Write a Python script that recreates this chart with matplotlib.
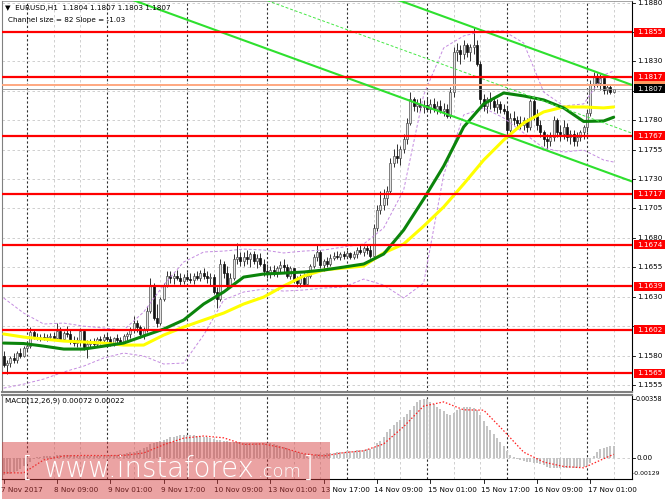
import numpy as np
import matplotlib
matplotlib.use('Agg')
import matplotlib.pyplot as plt
from matplotlib.patches import Rectangle
from matplotlib.transforms import blended_transform_factory

BASE = 1.15
PIP = 0.0001

# hourly EURUSD candles, values in pips above 1.1500
first_open = 80
close_p = [
    72, 74, 78, 76, 82, 80, 86, 88, 100, 96,
    95, 96, 94, 96, 97, 95, 101, 94, 99, 98,
    92, 91, 93, 101, 87, 90, 92, 90, 94, 93,
    96, 94, 90, 95, 93, 91, 97, 98, 102, 108,
    104, 98, 102, 118, 140, 112, 108, 128, 140, 148,
    146, 148, 146, 143, 147, 145, 144, 148, 146, 150,
    148, 146, 147, 134, 128, 158, 150, 140, 146, 162,
    164, 160, 164, 162, 166, 160, 163, 158, 152, 150,
    153, 150, 154, 157, 155, 148, 154, 144, 142, 146,
    141, 148, 156, 164, 168, 157, 160, 158, 163, 165,
    164, 166, 165, 167, 164, 166, 170, 168, 171, 170,
    165, 188, 204, 208, 214, 220, 244, 250, 248, 256,
    264, 278, 298, 292, 294, 291, 293, 290, 294, 290,
    292, 288, 290, 284, 304, 338, 340, 336, 344, 338,
    342, 344, 328, 298, 292, 298, 296, 291, 294, 290,
    288, 272, 282, 280, 278, 276, 280, 274, 296, 284,
    276, 270, 264, 262, 266, 280, 270, 268, 274, 266,
    268, 262, 266, 270, 274, 286, 310, 318, 312, 316,
    306, 308, 304, 307]
high_p = [
    84, 76, 80, 82, 84, 86, 88, 92, 104, 102,
    99, 98, 99, 98, 99, 100, 108, 104, 101, 105,
    102, 97, 96, 103, 102, 93, 94, 95, 96, 97,
    98, 99, 97, 96, 98, 96, 98, 100, 104, 114,
    110, 106, 104, 122, 146, 142, 124, 130, 142, 152,
    152, 150, 153, 150, 149, 151, 150, 150, 152, 153,
    154, 152, 150, 149, 138, 162, 160, 156, 150, 166,
    176, 168, 168, 170, 168, 169, 166, 167, 162, 158,
    156, 157, 156, 160, 162, 158, 156, 154, 148, 149,
    150, 150, 158, 166, 174, 170, 162, 164, 166, 168,
    169, 168, 169, 170, 168, 169, 172, 174, 173, 175,
    174, 192, 208, 220, 222, 224, 248, 256, 260, 258,
    268, 282, 304, 300, 298, 299, 297, 300, 298, 299,
    296, 297, 295, 294, 308, 342, 346, 344, 348, 346,
    345, 359, 348, 330, 302, 300, 304, 300, 298, 296,
    294, 291, 286, 288, 284, 284, 283, 282, 298, 298,
    290, 280, 272, 268, 270, 284, 282, 276, 280, 278,
    272, 272, 270, 272, 276, 290, 314, 321, 320, 319,
    316, 310, 310, 307]
low_p = [
    70, 64, 70, 74, 74, 78, 79, 84, 86, 94,
    93, 92, 93, 92, 94, 93, 94, 92, 92, 96,
    90, 88, 87, 88, 85, 78, 86, 88, 88, 90,
    91, 92, 88, 88, 91, 89, 90, 93, 95, 99,
    100, 95, 94, 100, 116, 110, 104, 106, 126, 138,
    142, 141, 144, 140, 141, 143, 142, 141, 144, 143,
    145, 142, 140, 132, 120, 126, 146, 136, 138, 144,
    158, 156, 156, 158, 155, 158, 154, 156, 148, 146,
    146, 148, 147, 150, 151, 146, 145, 142, 138, 138,
    139, 139, 146, 154, 160, 154, 152, 155, 156, 161,
    162, 161, 162, 163, 162, 162, 163, 166, 165, 166,
    163, 163, 186, 200, 204, 208, 218, 240, 244, 242,
    252, 260, 276, 288, 287, 288, 286, 288, 286, 287,
    285, 286, 284, 282, 282, 300, 330, 328, 332, 334,
    330, 336, 326, 294, 288, 286, 290, 288, 286, 286,
    285, 268, 270, 276, 274, 273, 272, 270, 272, 280,
    272, 266, 258, 256, 258, 262, 266, 262, 264, 262,
    260, 258, 258, 262, 264, 270, 284, 306, 308, 306,
    302, 302, 302, 303]

# MACD histogram, units of 0.00001
macd_hist = [
    -105, -100, -95, -88, -78, -66, -52, -38, -22, -8,
    3, 8, 10, 12, 13, 14, 15, 16, 17, 17,
    16, 15, 14, 14, 13, 12, 12, 13, 14, 14,
    15, 16, 17, 18, 20, 22, 26, 30, 34, 38,
    44, 50, 58, 68, 85, 92, 96, 100, 108, 116,
    124, 130, 135, 138, 140, 140, 139, 137, 135, 132,
    128, 124, 120, 114, 108, 106, 104, 100, 98, 96,
    95, 94, 92, 92, 91, 90, 90, 91, 92, 90,
    88, 84, 78, 72, 65, 58, 50, 42, 35, 28,
    22, 18, 16, 18, 22, 24, 26, 28, 30, 32,
    34, 36, 38, 40, 42, 44, 46, 48, 50, 52,
    54, 65, 88, 105, 125, 155, 175, 200, 220, 232,
    248, 268, 290, 315, 338, 352, 358, 355, 340, 325,
    310, 295, 282, 268, 262, 272, 288, 300, 308, 310,
    308, 302, 290, 262, 225, 195, 170, 145, 118, 95,
    70, 42, 20, 8, -5, -12, -20, -25, -26, -28,
    -30, -35, -45, -55, -60, -60, -60, -61, -60, -60,
    -59, -60, -60, -58, -55, -48, -30, 10, 35, 55,
    62, 68, 70, 72]

# indicator lines read every 6 bars
sample_idx = list(range(0, 181, 6)) + [183]
macd_signal = [-90, -91, -12, 12, 15, 14, 15, 30, 80, 120, 133, 122, 82, 85, 60, 25,
               12, 32, 43, 85, 190, 315, 340, 292, 290, 165, 35, -25, -52, -60, -5, 22]
ma_green = [90.6, 90.2, 88, 85.5, 85.5, 88, 90.6, 96.6, 102.5, 110.2, 123.8, 134, 146.7,
            149.3, 150.1, 151, 152.7, 155.2, 157.8, 166.3, 186.7, 213, 241, 274.3, 293.9,
            303.2, 300.7, 297.3, 290.5, 279, 279.4, 282.6]
ma_yellow = [98.3, 95.7, 94, 92.3, 91.5, 90.6, 88.9, 88.9, 97.4, 104.2, 110.2, 116.1, 123.8,
             129.7, 139.1, 147.6, 152.7, 154.4, 156.1, 167.2, 174.8, 190, 206.3, 225.8, 246.2,
             263.2, 277.7, 287.1, 291.3, 291.3, 290.5, 291.3]
band_upper = [128.9, 116.1, 106.8, 107.6, 105, 103.4, 101.7, 117, 139.9, 159.5, 168, 168.8,
              170.5, 169.7, 167.2, 168.8, 169.7, 172.3, 174.8, 188.4, 220.7, 301.5, 341.5,
              351.7, 355.9, 355.9, 345.7, 304, 292.2, 293.9, 318.5, 321.9]
band_lower = [52.3, 55.7, 60, 66, 71, 77.9, 82.1, 79.6, 72.8, 73.6, 97.4, 127.2, 134, 136.5,
              134.8, 135.7, 137.4, 138.2, 145, 139.9, 128.9, 141.6, 233.5, 284.5, 290.5, 282,
              269.2, 256.4, 253, 254.7, 246.2, 244.5]

levels = [1.1855, 1.1817, 1.1767, 1.1717, 1.1674, 1.1639, 1.1602, 1.1565]
price_ticks = [1.1555, 1.1580, 1.1605, 1.1630, 1.1655, 1.1680, 1.1705, 1.1730,
               1.1755, 1.1780, 1.1805, 1.1830, 1.1855, 1.1880]
bid = 1.1807
other_line = 1.1810
channel_size = 82        # pips
channel_slope = -1.03    # pips per bar
channel_low_right = 1.1728

date_idx = [0, 16, 32, 48, 64, 80, 96, 112, 128, 144, 160, 176]
date_labels = ['7 Nov 2017', '8 Nov 09:00', '9 Nov 01:00', '9 Nov 17:00', '10 Nov 09:00',
               '13 Nov 01:00', '13 Nov 17:00', '14 Nov 09:00', '15 Nov 01:00',
               '15 Nov 17:00', '16 Nov 09:00', '17 Nov 01:00']
day_starts = [7, 31, 55, 79, 103, 127, 151, 175]
macd_scale = [0.00358, 0.0, -0.00129]

W, H = 665, 499
FS = 5.2


def rect(l, t, r, b):
    return [l / W, 1 - b / H, (r - l) / W, (b - t) / H]


def main():
    c = BASE + np.array(close_p) * PIP
    hi = BASE + np.array(high_p) * PIP
    lo = BASE + np.array(low_p) * PIP
    o = BASE + np.array([first_open] + close_p[:-1]) * PIP
    hi = np.maximum(hi, np.maximum(o, c))
    lo = np.minimum(lo, np.minimum(o, c))
    idx = np.arange(len(c))
    sidx = np.array(sample_idx)
    xmin, xmax = -0.5, 188.5
    ylo, yhi = 1.15490, 1.18814

    fig = plt.figure(figsize=(W / 100, H / 100), dpi=100)
    ax = fig.add_axes(rect(2, 1, 632, 392))
    axm = fig.add_axes(rect(2, 395, 632, 479))
    axs = fig.add_axes(rect(632, 1, 665, 392))
    axms = fig.add_axes(rect(632, 395, 665, 479))

    for a in (ax, axm):
        a.set_xlim(xmin, xmax)
        a.set_xticks([])
        a.set_yticks([])
        for i in range(7, 189, 8):
            if i in day_starts:
                a.axvline(i, color='#303030', lw=0.8, ls=(0, (2, 2)), zorder=1)
            else:
                a.axvline(i, color='#c8c8c8', lw=0.6, ls=(0, (3, 3)), zorder=1)
        a.spines['left'].set_color('#808080')
        a.spines['right'].set_color('black')
        a.spines['right'].set_linewidth(0.8)
    ax.set_ylim(ylo, yhi)
    ax.spines['top'].set_color('#808080')
    ax.spines['top'].set_linewidth(0.5)
    ax.spines['bottom'].set_color('#808080')
    ax.spines['bottom'].set_linewidth(1.5)
    axm.spines['top'].set_color('#808080')
    axm.spines['top'].set_linewidth(1.5)
    axm.spines['bottom'].set_linewidth(0.8)

    for t in price_ticks:
        ax.axhline(t, color='#c8c8c8', lw=0.6, ls=(0, (3, 3)), zorder=1)

    # candles
    up = c >= o
    ax.vlines(idx, lo, hi, color='#303030', lw=0.7, zorder=3)
    ax.bar(idx[up], (c - o)[up], bottom=o[up], width=0.62, color='#e4e4e4',
           edgecolor='#505050', lw=0.5, zorder=4)
    ax.bar(idx[~up], (o - c)[~up], bottom=c[~up], width=0.62, color='#111111',
           edgecolor='#111111', lw=0.5, zorder=4)

    # moving averages and bands
    ax.plot(sidx, BASE + np.array(band_upper) * PIP, color='#c48be0', lw=0.7,
            ls=(0, (3, 2)), zorder=4)
    ax.plot(sidx, BASE + np.array(band_lower) * PIP, color='#c48be0', lw=0.7,
            ls=(0, (3, 2)), zorder=4)
    ax.plot(sidx, BASE + np.array(ma_yellow) * PIP, color='#ffff00', lw=2.2,
            solid_capstyle='round', solid_joinstyle='round', zorder=5)
    ax.plot(sidx, BASE + np.array(ma_green) * PIP, color='#0b840b', lw=2.2,
            solid_capstyle='round', solid_joinstyle='round', zorder=5)

    # channel
    xe = np.array([xmin, xmax])
    low_line = channel_low_right + channel_slope * PIP * (xe - xmax)
    ax.plot(xe, low_line, color='#2ee02e', lw=1.5, zorder=6)
    ax.plot(xe, low_line + channel_size * PIP, color='#2ee02e', lw=1.5, zorder=6)
    ax.plot(xe, low_line + channel_size * PIP / 2, color='#44e844', lw=0.7,
            ls=(0, (3, 2)), zorder=6)

    # horizontal levels
    for lv in levels:
        ax.axhline(lv, color='#ff0000', lw=1.6, zorder=6)
    ax.axhline(other_line, color='#ffa880', lw=1.4, zorder=5)
    ax.axhline(bid, color='#909090', lw=0.6, zorder=5)

    # price scale
    axs.set_xlim(0, 1)
    axs.set_ylim(ylo, yhi)
    axs.axis('off')
    hb = 9 / 11759
    boxed = levels + [bid]
    for t in price_ticks:
        axs.plot([0, 0.08], [t, t], color='black', lw=0.6, clip_on=False)
        if min(abs(t - b) for b in boxed) > 0.00055:
            axs.text(0.15, t, f'{t:.4f}', fontsize=FS, va='center', ha='left', zorder=2)
    axs.add_patch(Rectangle((0.05, other_line - hb / 2), 0.95, hb, fc='#ff9a60',
                            ec='none', zorder=3))
    axs.add_patch(Rectangle((0.05, bid - hb / 2), 0.95, hb, fc='black', ec='none', zorder=4))
    axs.text(0.15, bid, f'{bid:.4f}', fontsize=FS, va='center', color='white', zorder=4.5)
    for lv in levels:
        axs.add_patch(Rectangle((0.05, lv - hb / 2), 0.95, hb, fc='#ff0000',
                                ec='none', zorder=5))
        axs.text(0.15, lv, f'{lv:.4f}', fontsize=FS, va='center', color='white', zorder=6)

    # MACD panel
    hist = np.array(macd_hist) * 1e-5
    sig = np.array(macd_signal) * 1e-5
    axm.set_ylim(-0.00128, 0.00382)
    axm.axhline(0, color='#c8c8c8', lw=0.6, ls=(0, (3, 3)), zorder=1)
    axm.bar(idx, hist, width=0.6, color='#c4c4c4', zorder=3)
    axm.plot(sidx, sig, color='#ff2020', lw=0.9, ls=(0, (1.2, 1.5)), zorder=4)

    axms.set_xlim(0, 1)
    axms.set_ylim(-0.00128, 0.00382)
    axms.axis('off')
    for v in macd_scale[:2]:
        axms.plot([0, 0.08], [v, v], color='black', lw=0.6, clip_on=False)
    axms.text(0.12, macd_scale[0], f'{macd_scale[0]:.5f}', fontsize=4.7, va='center')
    axms.text(0.15, 0.0, '0.00', fontsize=FS, va='center')
    axms.text(0.03, 0.03, f'{macd_scale[2]:.5f}', fontsize=4.4, va='bottom',
              transform=axms.transAxes)

    # date axis
    tr = blended_transform_factory(axm.transData, axm.transAxes)
    for i, lab in zip(date_idx, date_labels):
        axm.plot([i, i], [0, -0.05], color='black', lw=0.6, transform=tr, clip_on=False)
        axm.text(i - 0.8, -0.135, lab, fontsize=FS, ha='left', va='center',
                 transform=tr, clip_on=False)

    # header texts
    ohlc = (o[-1], hi[-1], lo[-1], c[-1])
    fig.text(5 / W, 1 - 8 / H,
             '\u25bc  EURUSD,H1  ' + ' '.join(f'{v:.4f}' for v in ohlc),
             fontsize=FS, va='center')
    fig.text(8 / W, 1 - 20 / H,
             f'Channel size = {channel_size} Slope = {channel_slope:.2f}',
             fontsize=FS, va='center')
    fig.text(5 / W, 1 - 401 / H,
             f'MACD(12,26,9) {hist[-1]:.5f} {sig[-1]:.5f}', fontsize=FS, va='center')

    # watermark
    fig.add_artist(Rectangle((2 / W, 0), 328 / W, 57 / H, transform=fig.transFigure,
                             fc='#d63c3c', alpha=0.47, ec='none', zorder=10))
    yb = 1 - 477 / H
    fig.text(22 / W, yb, '[', fontsize=20, color='white', fontweight='light',
             va='baseline', zorder=11)
    fig.text(43 / W, yb, 'www.instaforex', fontsize=19.8, color='white',
             fontweight='light', va='baseline', zorder=11)
    fig.text(258 / W, yb, '.com', fontsize=13, color='white', fontweight='light',
             va='baseline', zorder=11)
    fig.text(303 / W, yb, ']', fontsize=20, color='white', fontweight='light',
             va='baseline', zorder=11)

    fig.savefig('out.png', dpi=100)


if __name__ == '__main__':
    main()
